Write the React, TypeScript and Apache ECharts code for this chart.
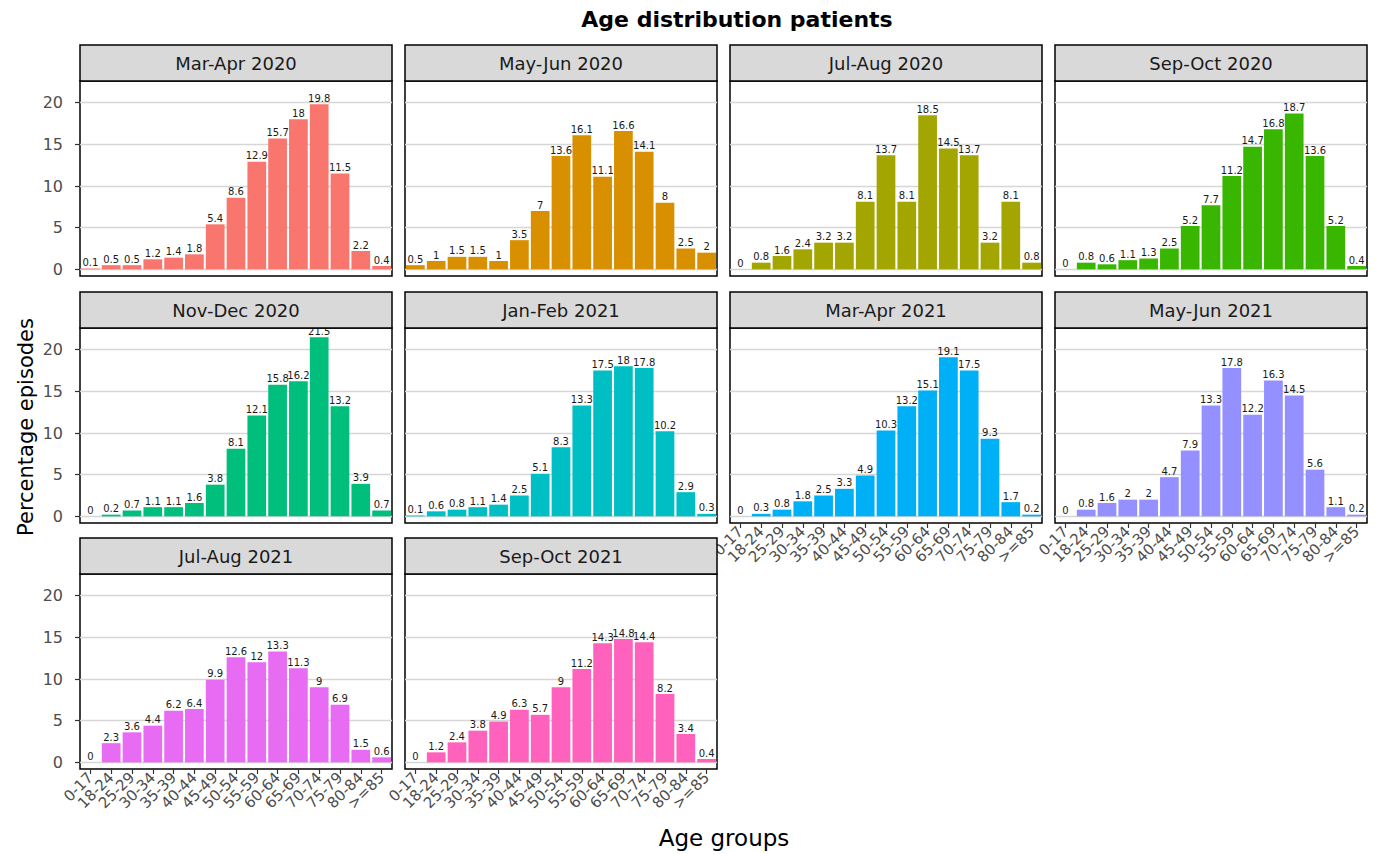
import React, { useEffect, useRef } from "react";
import * as echarts from "echarts";

const AGE_GROUPS = ["0-17", "18-24", "25-29", "30-34", "35-39", "40-44", "45-49", "50-54", "55-59", "60-64", "65-69", "70-74", "75-79", "80-84", ">=85"];
const PERIODS = ["Mar-Apr 2020", "May-Jun 2020", "Jul-Aug 2020", "Sep-Oct 2020", "Nov-Dec 2020", "Jan-Feb 2021", "Mar-Apr 2021", "May-Jun 2021", "Jul-Aug 2021", "Sep-Oct 2021"];

const MAR_APR_2020 = [0.1, 0.5, 0.5, 1.2, 1.4, 1.8, 5.4, 8.6, 12.9, 15.7, 18, 19.8, 11.5, 2.2, 0.4];
const MAY_JUN_2020 = [0.5, 1, 1.5, 1.5, 1, 3.5, 7, 13.6, 16.1, 11.1, 16.6, 14.1, 8, 2.5, 2];
const JUL_AUG_2020 = [0, 0.8, 1.6, 2.4, 3.2, 3.2, 8.1, 13.7, 8.1, 18.5, 14.5, 13.7, 3.2, 8.1, 0.8];
const SEP_OCT_2020 = [0, 0.8, 0.6, 1.1, 1.3, 2.5, 5.2, 7.7, 11.2, 14.7, 16.8, 18.7, 13.6, 5.2, 0.4];
const NOV_DEC_2020 = [0, 0.2, 0.7, 1.1, 1.1, 1.6, 3.8, 8.1, 12.1, 15.8, 16.2, 21.5, 13.2, 3.9, 0.7];
const JAN_FEB_2021 = [0.1, 0.6, 0.8, 1.1, 1.4, 2.5, 5.1, 8.3, 13.3, 17.5, 18, 17.8, 10.2, 2.9, 0.3];
const MAR_APR_2021 = [0, 0.3, 0.8, 1.8, 2.5, 3.3, 4.9, 10.3, 13.2, 15.1, 19.1, 17.5, 9.3, 1.7, 0.2];
const MAY_JUN_2021 = [0, 0.8, 1.6, 2, 2, 4.7, 7.9, 13.3, 17.8, 12.2, 16.3, 14.5, 5.6, 1.1, 0.2];
const JUL_AUG_2021 = [0, 2.3, 3.6, 4.4, 6.2, 6.4, 9.9, 12.6, 12, 13.3, 11.3, 9, 6.9, 1.5, 0.6];
const SEP_OCT_2021 = [0, 1.2, 2.4, 3.8, 4.9, 6.3, 5.7, 9, 11.2, 14.3, 14.8, 14.4, 8.2, 3.4, 0.4];

const SERIES_VALUES = [MAR_APR_2020, MAY_JUN_2020, JUL_AUG_2020, SEP_OCT_2020, NOV_DEC_2020, JAN_FEB_2021, MAR_APR_2021, MAY_JUN_2021, JUL_AUG_2021, SEP_OCT_2021];
const PANEL_COLORS = ["#F8766D", "#D89000", "#A3A500", "#39B600", "#00BF7D", "#00BFC4", "#00B0F6", "#9590FF", "#E76BF3", "#FF62BC"];
const Y_TICKS = [0, 5, 10, 15, 20];

const FONT = "DejaVu Sans";

export default function App() {
  const ref = useRef<HTMLDivElement>(null);
  useEffect(() => {
    if (!ref.current) return;
    const chart = echarts.init(ref.current, null, { renderer: "svg" });
    const colLeft = [80, 405, 730, 1055];
    const stripTop = [45, 292, 538];
    const W = 312;
    const SH = 36;
    const PH = 195;
    const bottomPanels = [6, 7, 8, 9];
    const grids: any[] = [];
    const xAxes: any[] = [];
    const yAxes: any[] = [];
    const series: any[] = [];
    const graphics: any[] = [];
    PERIODS.forEach((p, i) => {
      const r = Math.floor(i / 4);
      const c = i % 4;
      const left = colLeft[c];
      const top = stripTop[r] + SH;
      const showX = bottomPanels.indexOf(i) >= 0;
      grids.push({ left, top, width: W, height: PH, show: true, borderColor: "#000", borderWidth: 1.5, backgroundColor: "#fff" });
      xAxes.push({
        type: "category",
        gridIndex: i,
        data: AGE_GROUPS,
        axisLine: { show: false, onZero: false },
        axisTick: { show: showX, alignWithLabel: true, length: 5, lineStyle: { color: "#333", width: 1.2 } },
        axisLabel: { show: showX, rotate: 45, interval: 0, fontSize: 15, color: "#4D4D4D", fontFamily: FONT, margin: 6 },
        splitLine: { show: false },
      });
      yAxes.push({
        type: "value",
        gridIndex: i,
        min: -0.8,
        max: 22.6,
        axisLine: { show: false },
        axisTick: { show: c === 0, length: 5, customValues: Y_TICKS, lineStyle: { color: "#333", width: 1.2 } },
        axisLabel: { show: c === 0, customValues: Y_TICKS, fontSize: 16, color: "#4D4D4D", fontFamily: FONT, margin: 17 },
        splitLine: { show: true, lineStyle: { color: "#D6D6D6", width: 1.3 } },
      });
      series.push({
        type: "bar",
        name: p,
        xAxisIndex: i,
        yAxisIndex: i,
        data: SERIES_VALUES[i],
        barCategoryGap: "10%",
        itemStyle: { color: PANEL_COLORS[i] },
        label: { show: true, position: "top", distance: 1, fontSize: 10, color: "#1A1A1A", fontFamily: FONT },
      });
      graphics.push({
        type: "rect",
        z: 100,
        shape: { x: left, y: stripTop[r], width: W, height: SH },
        style: { fill: "#D9D9D9", stroke: "#000", lineWidth: 1.5 },
      });
      graphics.push({
        type: "text",
        z: 101,
        x: left + W / 2,
        y: stripTop[r] + SH / 2,
        style: { text: p, align: "center", verticalAlign: "middle", fontSize: 18, fontFamily: FONT, fill: "#1A1A1A" },
      });
    });
    graphics.push({
      type: "text",
      z: 101,
      x: 737,
      y: 19,
      style: { text: "Age distribution patients", align: "center", verticalAlign: "middle", fontSize: 22, fontWeight: "bold", fontFamily: FONT, fill: "#000" },
    });
    graphics.push({
      type: "text",
      z: 101,
      x: 724,
      y: 838,
      style: { text: "Age groups", align: "center", verticalAlign: "middle", fontSize: 23, fontFamily: FONT, fill: "#000" },
    });
    graphics.push({
      type: "text",
      z: 101,
      x: 26,
      y: 427,
      rotation: Math.PI / 2,
      style: { text: "Percentage episodes", align: "center", verticalAlign: "middle", fontSize: 21, fontFamily: FONT, fill: "#000" },
    });
    chart.setOption({
      animation: false,
      backgroundColor: "#fff",
      textStyle: { fontFamily: FONT },
      grid: grids,
      xAxis: xAxes,
      yAxis: yAxes,
      series,
      graphic: graphics,
    });
    return () => chart.dispose();
  }, []);
  return <div ref={ref} style={{ position: "fixed", left: 0, top: 0, width: 1377, height: 854 }} />;
}
